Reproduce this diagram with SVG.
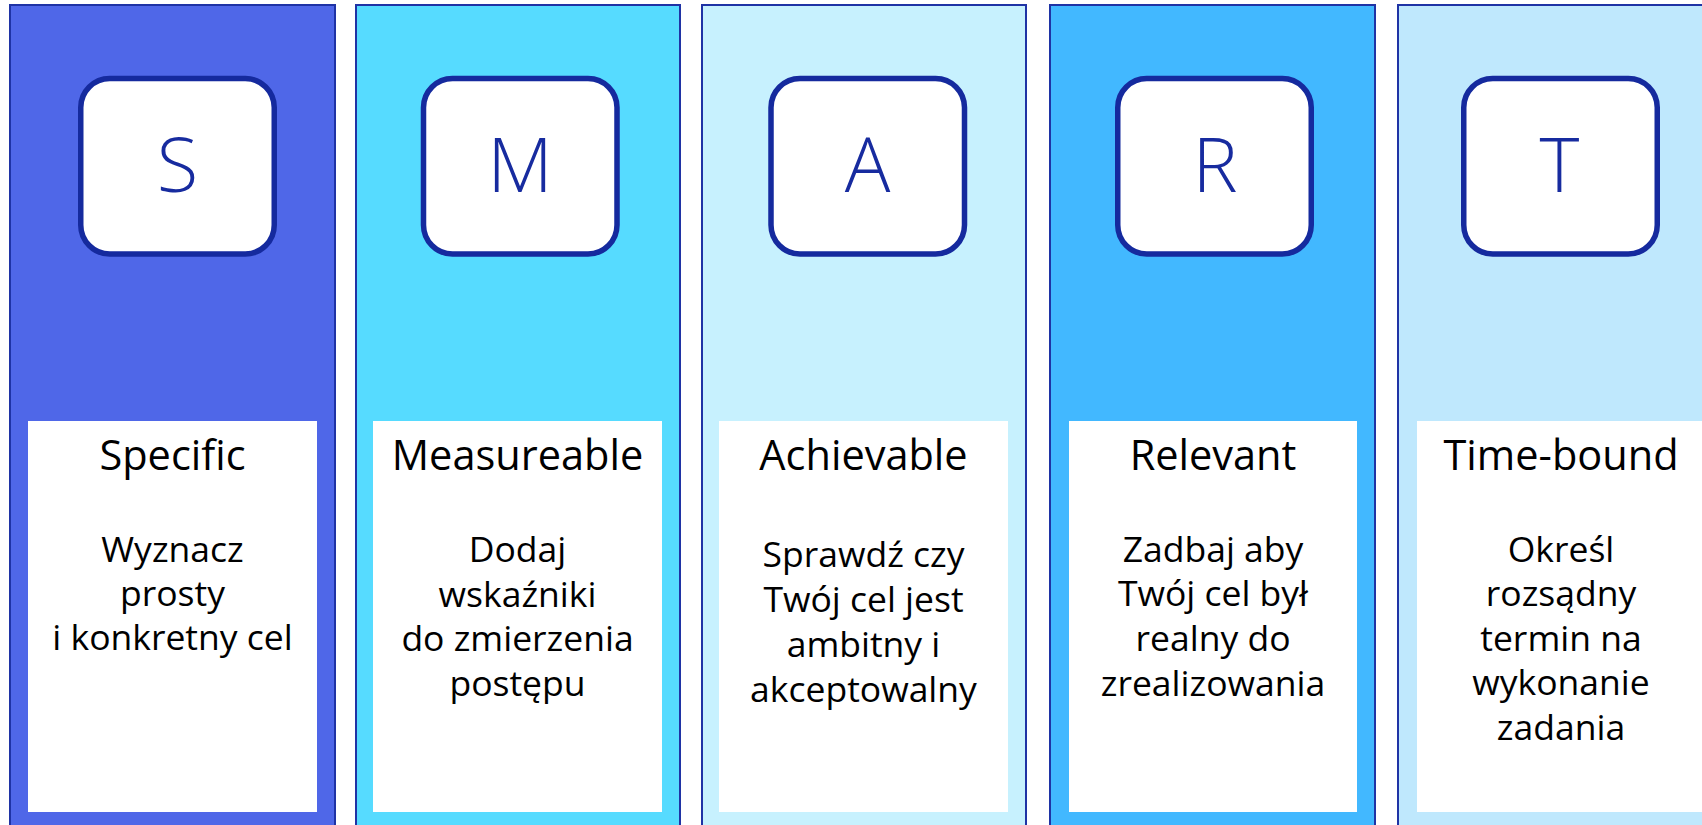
<svg xmlns="http://www.w3.org/2000/svg" width="1702" height="825" viewBox="0 0 1702 825">
<style>
.col{stroke:#1f33a5;stroke-width:2}
.icon{fill:#ffffff;stroke:#152a9e;stroke-width:5.5}
.card{fill:#ffffff}
.letter{font-family:"Open Sans","Noto Sans",sans-serif;font-weight:350;font-size:76px;fill:#172b9f;text-anchor:middle}
.title{font-family:"Open Sans","Noto Sans",sans-serif;font-size:41.5px;fill:#000000;text-anchor:middle}
.body{font-family:"Open Sans","Noto Sans",sans-serif;font-size:35.5px;fill:#000000;text-anchor:middle}
</style>
<rect width="1702" height="825" fill="#ffffff"/>
<g id="node-S">
<rect class="col" x="10" y="5" width="325" height="830" fill="#4f67e8"/>
<rect class="icon" x="80.75" y="78.5" width="193.5" height="175.5" rx="29"/>
<text class="letter" x="177.5" y="192">S</text>
<rect class="card" x="28" y="421" width="289" height="391"/>
<text class="title" x="172.5" y="470">Specific</text>
<text class="body" x="172.5" y="562">Wyznacz</text>
<text class="body" x="172.5" y="606">prosty</text>
<text class="body" x="172.5" y="650">i konkretny cel</text>
</g>
<g id="node-M">
<rect class="col" x="356" y="5" width="324" height="830" fill="#56dbff"/>
<rect class="icon" x="423.5" y="78.5" width="193.5" height="175.5" rx="29"/>
<text class="letter" x="520" y="192">M</text>
<rect class="card" x="373" y="421" width="289" height="391"/>
<text class="title" x="517.5" y="470">Measureable</text>
<text class="body" x="517.5" y="562">Dodaj</text>
<text class="body" x="517.5" y="606.5">wskaźniki</text>
<text class="body" x="517.5" y="651">do zmierzenia</text>
<text class="body" x="517.5" y="695.5">postępu</text>
</g>
<g id="node-A">
<rect class="col" x="702" y="5" width="324" height="830" fill="#c7f1fe"/>
<rect class="icon" x="771" y="78.5" width="193.5" height="175.5" rx="29"/>
<text class="letter" x="867.7" y="192">A</text>
<rect class="card" x="719" y="421" width="289" height="391"/>
<text class="title" x="863.5" y="470">Achievable</text>
<text class="body" x="863.5" y="567">Sprawdź czy</text>
<text class="body" x="863.5" y="612">Twój cel jest</text>
<text class="body" x="863.5" y="657">ambitny i</text>
<text class="body" x="863.5" y="702">akceptowalny</text>
</g>
<g id="node-R">
<rect class="col" x="1050" y="5" width="325" height="830" fill="#42b8ff"/>
<rect class="icon" x="1117.75" y="78.5" width="193.5" height="175.5" rx="29"/>
<text class="letter" x="1215" y="192">R</text>
<rect class="card" x="1069" y="421" width="288" height="391"/>
<text class="title" x="1213" y="470">Relevant</text>
<text class="body" x="1213" y="562">Zadbaj aby</text>
<text class="body" x="1213" y="606">Twój cel był</text>
<text class="body" x="1213" y="651">realny do</text>
<text class="body" x="1213" y="696">zrealizowania</text>
</g>
<g id="node-T">
<rect class="col" x="1398" y="5" width="325" height="830" fill="#bfe8fd"/>
<rect class="icon" x="1463.75" y="78.5" width="193.5" height="175.5" rx="29"/>
<text class="letter" x="1559.5" y="192">T</text>
<rect class="card" x="1417" y="421" width="289" height="391"/>
<text class="title" x="1561" y="470">Time-bound</text>
<text class="body" x="1561" y="562">Określ</text>
<text class="body" x="1561" y="606">rozsądny</text>
<text class="body" x="1561" y="650.5">termin na</text>
<text class="body" x="1561" y="695">wykonanie</text>
<text class="body" x="1561" y="740">zadania</text>
</g>
<g id="connectors"></g>
</svg>
